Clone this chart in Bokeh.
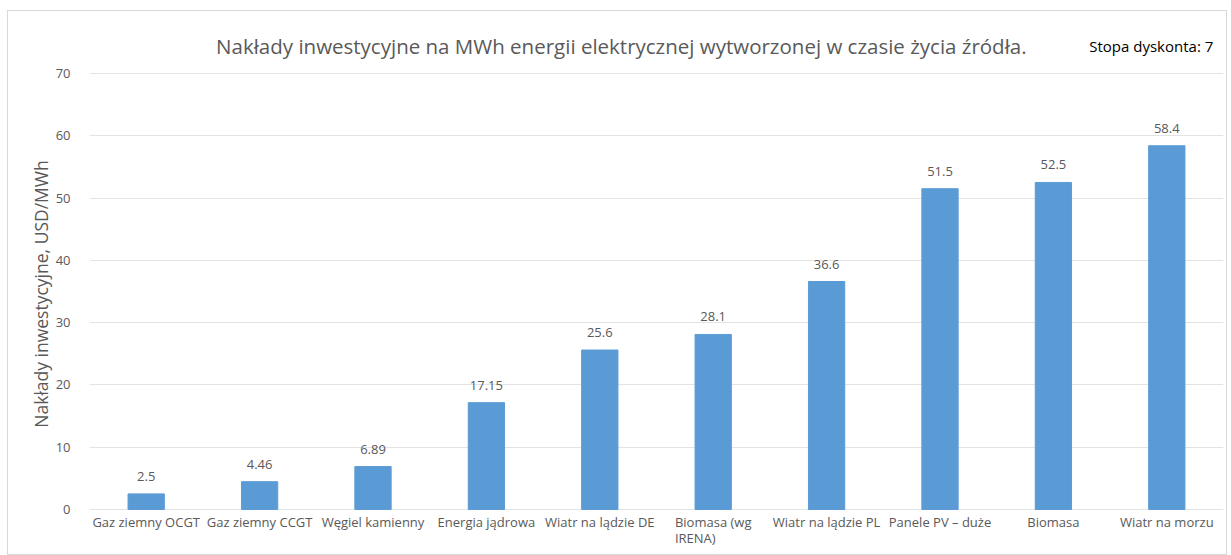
from bokeh.plotting import figure
from bokeh.models import ColumnDataSource, Label, FactorRange, Range1d, LabelSet
from bokeh.core.properties import value
from bokeh.embed import file_html
from bokeh.resources import INLINE

categories = ["Gaz ziemny OCGT", "Gaz ziemny CCGT", "Węgiel kamienny", "Energia jądrowa",
              "Wiatr na lądzie DE", "Biomasa (wg IRENA)", "Wiatr na lądzie PL",
              "Panele PV – duże", "Biomasa", "Wiatr na morzu"]
category_labels = ["Gaz ziemny OCGT", "Gaz ziemny CCGT", "Węgiel kamienny", "Energia jądrowa",
                   "Wiatr na lądzie DE", "Biomasa (wg\nIRENA)", "Wiatr na lądzie PL",
                   "Panele PV – duże", "Biomasa", "Wiatr na morzu"]
values = [2.5, 4.46, 6.89, 17.15, 25.6, 28.1, 36.6, 51.5, 52.5, 58.4]
value_labels = ["2.5", "4.46", "6.89", "17.15", "25.6", "28.1", "36.6", "51.5", "52.5", "58.4"]
y_ticks = [0, 10, 20, 30, 40, 50, 60, 70]
title_text = "Nakłady inwestycyjne na MWh energii elektrycznej wytworzonej w czasie życia źródła."
note_text = "Stopa dyskonta: 7"
y_title = "Nakłady inwestycyjne, USD/MWh"

FONT = "Open Sans"
GRAY = "#595959"

src = ColumnDataSource(dict(cat=categories, val=values, lab=value_labels,
                            catlab=category_labels, zero=[0] * len(categories)))

# frame spans from just under the title to the bottom edge; px per unit ~6.23
p = figure(x_range=FactorRange(*categories), y_range=Range1d(-7.55, 76.74),
           width=1220, height=545, output_backend="svg", toolbar_location=None,
           min_border_left=81, min_border_right=5, min_border_top=20, min_border_bottom=0)
p.styles = {"border": "1px solid #d9d9d9", "margin-left": "7px", "margin-top": "10px"}
p.outline_line_color = None
p.x_range.range_padding = 0.0

p.vbar(x="cat", top="val", width=0.32, source=src, color="#5B9BD5")

p.add_layout(LabelSet(x="cat", y="val", text="lab", source=src, text_align="center",
                      text_baseline="bottom", y_offset=13, text_font_size="13px",
                      text_color=GRAY, text_font=value(FONT)))

# category labels under the zero line
p.add_layout(LabelSet(x="cat", y="zero", text="catlab", source=src, text_align="center",
                      text_baseline="top", y_offset=-4, text_font_size="13px",
                      text_line_height=0.85,
                      text_color=GRAY, text_font=value(FONT)))

p.xaxis.visible = False

p.yaxis.ticker = y_ticks
p.yaxis.axis_line_color = None
p.yaxis.major_tick_line_color = None
p.yaxis.minor_tick_line_color = None
p.yaxis.major_label_text_font_size = "13px"
p.yaxis.major_label_text_color = GRAY
p.yaxis.major_label_text_font = FONT
p.yaxis.major_label_standoff = 13
p.yaxis.axis_label = y_title
p.yaxis.axis_label_text_font = FONT
p.yaxis.axis_label_text_font_size = "17.5px"
p.yaxis.axis_label_text_font_style = "normal"
p.yaxis.axis_label_text_color = GRAY
p.yaxis.axis_label_standoff = 0

p.xgrid.grid_line_color = None
p.ygrid.grid_line_color = "#e3e3e3"

p.add_layout(Label(x=4.69, y=74.49, text=title_text,
                   text_align="center", text_baseline="middle", text_font_size="20.5px",
                   text_color=GRAY, text_font=FONT))
p.add_layout(Label(x=9.91, y=74.49, text=note_text,
                   text_align="right", text_baseline="middle", text_font_size="15px",
                   text_color="#000000", text_font=FONT))

open("out.html", "w").write(file_html(p, INLINE))
